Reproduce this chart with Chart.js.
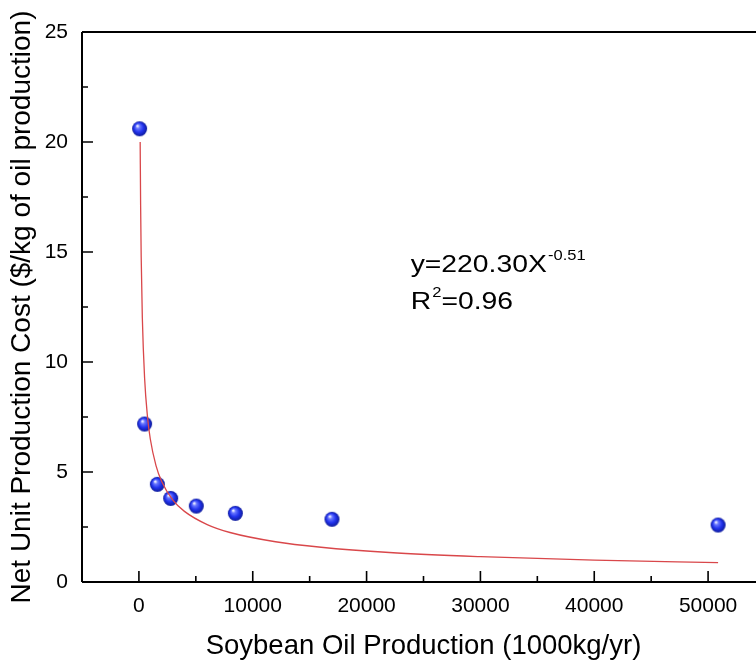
<!DOCTYPE html>
<html>
<head>
<meta charset="utf-8">
<script src="https://cdn.jsdelivr.net/npm/chart.js@4.4.0/dist/chart.umd.min.js"></script>
<style>
  html, body { margin: 0; padding: 0; background: #fff; overflow: hidden; }
  #wrap { width: 800px; height: 663px; }
</style>
</head>
<body>
<div id="wrap"><canvas id="fitChart"></canvas></div>
<script>
// measured points (x: 1000kg/yr, y: $/kg)
var prodX = [60, 500, 1620, 2790, 5040, 8470, 16960, 50880];
var costY = [20.6, 7.18, 4.44, 3.80, 3.45, 3.12, 2.85, 2.59];

// power fit curve
var fitX = [110, 150, 200, 300, 500, 750, 1000, 1500, 2000, 3000, 4000, 6000, 8000, 12000, 16000, 22000, 30000, 40000, 50880];
var fitY = [20.0, 17.11, 14.77, 12.01, 9.26, 7.53, 6.50, 5.29, 4.57, 3.71, 3.21, 2.61, 2.25, 1.83, 1.58, 1.34, 1.15, 0.99, 0.88];

var xTicks = [0, 10000, 20000, 30000, 40000, 50000];
var yTicks = [0, 5, 10, 15, 20, 25];
var xMinor = [5000, 15000, 25000, 35000, 45000];
var yMinor = [2.5, 7.5, 12.5, 17.5, 22.5];

var xTitle = 'Soybean Oil Production (1000kg/yr)';
var yTitle = 'Net Unit Production Cost ($/kg of oil production)';
var fitEq = 'y=220.30X', fitExp = '-0.51';
var fitR = 'R', fitRexp = '2', fitRval = '=0.96';

var FONT = '"Liberation Sans", Arial, sans-serif';

// shaded blue ball used as marker
function makeBall(r) {
    var c = document.createElement('canvas');
    c.width = r * 2 + 2; c.height = r * 2 + 2;
    var g = c.getContext('2d');
    var cx = r + 1, cy = r + 1;
    var grad = g.createRadialGradient(cx - r * 0.3, cy - r * 0.4, 0.5, cx, cy, r);
    grad.addColorStop(0, '#f2f4ff');
    grad.addColorStop(0.22, '#6a78ff');
    grad.addColorStop(0.6, '#2233ee');
    grad.addColorStop(1, '#0d1a9a');
    g.fillStyle = grad;
    g.beginPath(); g.arc(cx, cy, r, 0, Math.PI * 2); g.fill();
    return c;
}

var pts = prodX.map(function (x, i) { return { x: x, y: costY[i] }; });
var curve = fitX.map(function (x, i) { return { x: x, y: fitY[i] }; });

var framePlugin = {
    id: 'frame',
    afterDraw: function (chart) {
        var ctx = chart.ctx, a = chart.chartArea;
        var xs = chart.scales.x, ys = chart.scales.y;
        ctx.save();
        ctx.strokeStyle = '#000';
        ctx.lineWidth = 2;
        ctx.beginPath();
        ctx.moveTo(a.left, a.top); ctx.lineTo(a.right, a.top);
        ctx.moveTo(a.left, a.top); ctx.lineTo(a.left, a.bottom);
        ctx.moveTo(a.left, a.bottom); ctx.lineTo(a.right, a.bottom);
        ctx.stroke();
        ctx.lineWidth = 1.6;
        ctx.beginPath();
        xTicks.forEach(function (v) { var p = xs.getPixelForValue(v); ctx.moveTo(p, a.bottom); ctx.lineTo(p, a.bottom - 11); });
        xMinor.forEach(function (v) { var p = xs.getPixelForValue(v); ctx.moveTo(p, a.bottom); ctx.lineTo(p, a.bottom - 6); });
        yTicks.forEach(function (v) { var p = ys.getPixelForValue(v); ctx.moveTo(a.left, p); ctx.lineTo(a.left + 11, p); });
        yMinor.forEach(function (v) { var p = ys.getPixelForValue(v); ctx.moveTo(a.left, p); ctx.lineTo(a.left + 6, p); });
        ctx.stroke();

        // fit equation (text is a bit wide in the original, so stretch it)
        var tx = xs.getPixelForValue(23870), ty1 = ys.getPixelForValue(14.09), ty2 = ys.getPixelForValue(12.41);
        ctx.translate(tx, 0);
        ctx.scale(1.18, 1);
        ctx.fillStyle = '#000';
        ctx.textBaseline = 'alphabetic';
        ctx.textAlign = 'left';
        ctx.font = '24px ' + FONT;
        ctx.fillText(fitEq, 0, ty1);
        var w = ctx.measureText(fitEq).width;
        ctx.fillText(fitR, 0, ty2);
        var wr = ctx.measureText(fitR).width;
        ctx.font = '14px ' + FONT;
        ctx.fillText(fitExp, w + 1, ty1 - 12);
        ctx.fillText(fitRexp, wr + 1, ty2 - 12);
        var w2 = ctx.measureText(fitRexp).width;
        ctx.font = '24px ' + FONT;
        ctx.fillText(fitRval, wr + w2 + 1, ty2);
        ctx.restore();
    }
};

var ctx = document.getElementById('fitChart').getContext('2d');
var myChart = new Chart(ctx, {
    type: 'scatter',
    data: {
        datasets: [{
            label: 'fit',
            type: 'line',
            data: curve,
            borderColor: '#d9474a',
            borderWidth: 1.3,
            pointRadius: 0,
            fill: false,
            cubicInterpolationMode: 'monotone'
        }, {
            label: 'data',
            data: pts,
            pointStyle: makeBall(7.5),
            pointRadius: 8
        }]
    },
    options: {
        responsive: true,
        maintainAspectRatio: false,
        animation: false,
        layout: { padding: { left: 0, top: 32, right: 35, bottom: 0 } },
        plugins: { legend: { display: false }, tooltip: { enabled: false } },
        scales: {
            x: {
                type: 'linear',
                min: -5000,
                max: 55000,
                afterBuildTicks: function (s) { s.ticks = xTicks.map(function (v) { return { value: v }; }); },
                afterFit: function (s) { s.height = 81; },
                grid: { display: false },
                border: { display: false },
                ticks: {
                    color: '#000',
                    padding: 4,
                    maxRotation: 0,
                    font: { family: 'Liberation Sans', size: 21 },
                    callback: function (v) { return String(v); }
                },
                title: {
                    display: true,
                    text: xTitle,
                    color: '#000',
                    padding: { bottom: 0 },
                    font: { family: 'Liberation Sans', size: 27.5 }
                }
            },
            y: {
                min: 0,
                max: 25,
                afterBuildTicks: function (s) { s.ticks = yTicks.map(function (v) { return { value: v }; }); },
                afterFit: function (s) { s.width = 82; },
                grid: { display: false },
                border: { display: false },
                ticks: {
                    color: '#000',
                    padding: 6,
                    font: { family: 'Liberation Sans', size: 21 }
                },
                title: {
                    display: true,
                    text: yTitle,
                    color: '#000',
                    padding: { top: 5 },
                    font: { family: 'Liberation Sans', size: 28 }
                }
            }
        }
    },
    plugins: [framePlugin]
});
</script>
</body>
</html>
